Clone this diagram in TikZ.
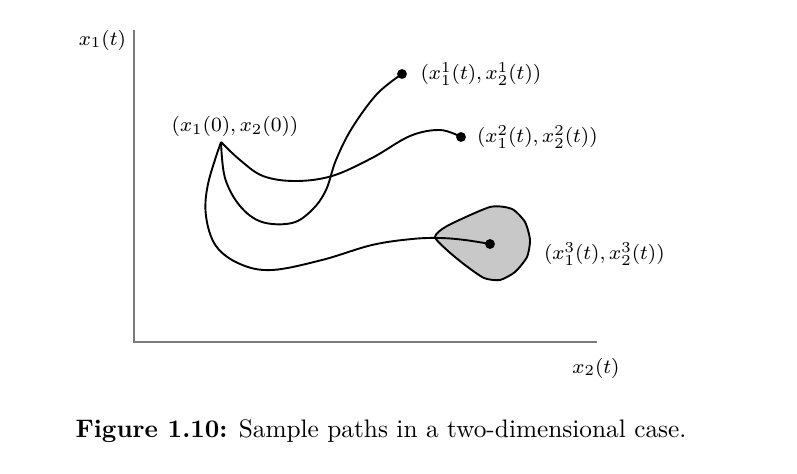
\documentclass[tikz,border=0pt]{standalone}
\usepackage{amsmath,amssymb}
\usetikzlibrary{positioning}
\definecolor{AxisGray}{HTML}{7A7A7A}
\definecolor{BlobGray}{HTML}{C8C8C8}

\begin{document}
\begin{tikzpicture}[x=0.395pt, y=-0.395pt,
    axis/.style={draw=AxisGray, line width=0.45pt},
    path/.style={draw=black, line width=0.75pt, line join=round},
    enddot/.style={circle, fill=black, inner sep=0pt, minimum size=3.9pt},
    lbl/.style={font=\fontsize{8.5}{10}\selectfont, inner sep=1pt}
  ]
    \useasboundingbox (0,0) rectangle (797,473);

    % axes
    \coordinate (top) at (134,30);
    \coordinate (org) at (134,342);
    \coordinate (rgt) at (597,342);
    \draw[axis] (top) -- (org) -- (rgt);
    \node[lbl, anchor=east] (y1) at (129,40) {$x_1(t)$};
    \node[lbl] (y2) at (596,368) {$x_2(t)$};

    % start point and end points
    \coordinate (x0) at (221,142);
    \node[lbl, anchor=south] (x0lbl) at (235,140) {$(x_1(0),x_2(0))$};

    % confidence region round the third end point
    \filldraw[fill=BlobGray, draw=black, line width=0.75pt, line join=round]
      plot[smooth cycle, tension=0.4] coordinates {(435,237) (447,226) (490,207) (512,209)
        (525,222) (530,240) (527,257) (515,272) (500,280) (484,278) (465,265) (448,251)};

    \node[enddot] (e1) at (402,74) {};
    \node[enddot] (e2) at (461,137) {};
    \node[enddot] (e3) at (490,244) {};
    \node[lbl, right=4pt of e1] (l1) {$(x_1^1(t),x_2^1(t))$};
    \node[lbl, right=3pt of e2] (l2) {$(x_1^2(t),x_2^2(t))$};
    \node[lbl, anchor=west] (l3) at (541,254) {$(x_1^3(t),x_2^3(t))$};

    % sample paths
    \draw[path] plot[smooth, tension=0.6] coordinates {(x0) (225,178) (240,206) (262,222)
      (292,223) (312,210) (326,190) (336,160) (352,128) (377,94) (e1.center)};
    \draw[path] plot[smooth, tension=0.6] coordinates {(x0) (240,160) (263,176) (295,181)
      (332,176) (372,158) (410,136) (440,130) (e2.center)};
    \draw[path] plot[smooth, tension=0.6] coordinates {(x0) (208,184) (206,216) (216,246)
      (240,264) (272,270) (322,260) (372,245) (412,239) (440,238) (465,240) (e3.center)};

    % caption
    \node[font=\normalsize] (cap) at (381,431) {\textbf{Figure 1.10:} Sample paths in a two-dimensional case.};
\end{tikzpicture}
\end{document}
